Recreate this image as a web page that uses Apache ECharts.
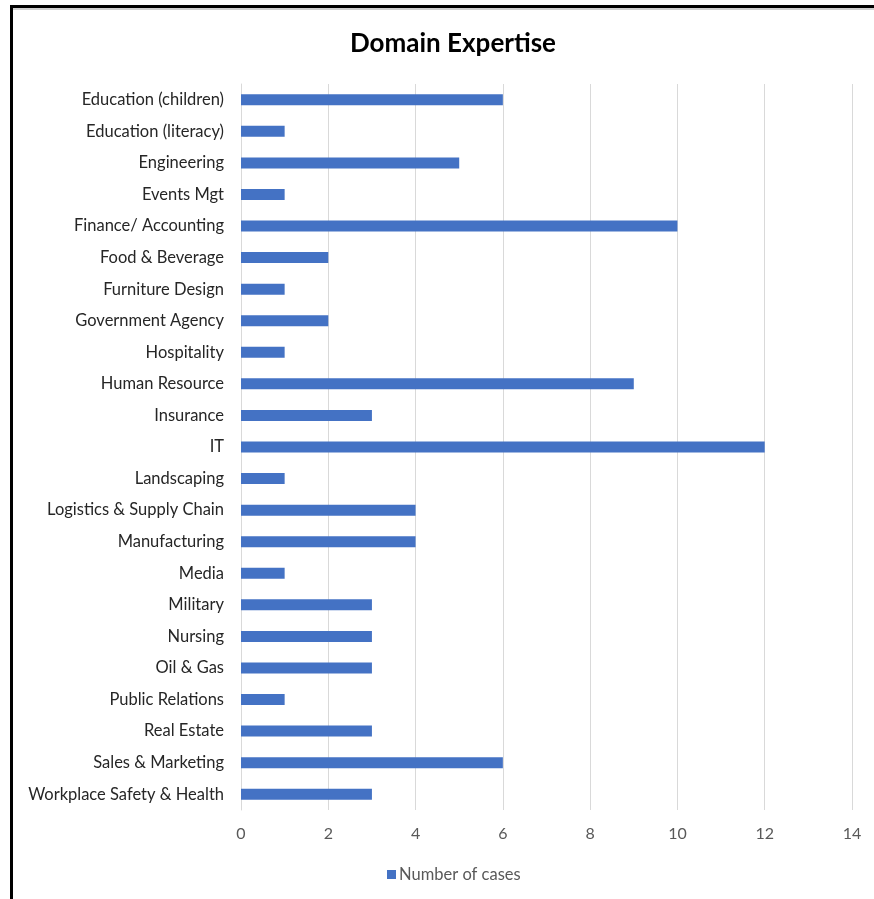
<!DOCTYPE html>
<html>
<head>
<meta charset="utf-8">
<script src="https://cdn.jsdelivr.net/npm/echarts@6/dist/echarts.min.js"></script>
<style>
  html, body { margin: 0; padding: 0; background: #fff; }
  #wrap { position: relative; width: 874px; height: 899px; }
  #chart { position: absolute; left: 0; top: 0; width: 874px; height: 899px; }
  #frame { position: absolute; left: 10px; top: 5px; right: 0; bottom: 0;
           border-left: 3px solid #000; border-top: 3px solid #000;
           box-shadow: 0 2px 0 #d0d0d0 inset; pointer-events: none; }
</style>
</head>
<body>
<div id="wrap">
  <div id="chart"></div>
  <div id="frame"></div>
</div>
<script>
const categories = [
  'Education (children)', 'Education (literacy)', 'Engineering', 'Events Mgt',
  'Finance/ Accounting', 'Food & Beverage', 'Furniture Design', 'Government Agency',
  'Hospitality', 'Human Resource', 'Insurance', 'IT', 'Landscaping',
  'Logistics & Supply Chain', 'Manufacturing', 'Media', 'Military', 'Nursing',
  'Oil & Gas', 'Public Relations', 'Real Estate', 'Sales & Marketing',
  'Workplace Safety & Health'
]
const cases = [6, 1, 5, 1, 10, 2, 1, 2, 1, 9, 3, 12, 1, 4, 4, 1, 3, 3, 3, 1, 3, 6, 3]

const chart = echarts.init(document.getElementById('chart'))
chart.setOption({
  animation: false,
  title: {
    text: 'Domain Expertise',
    left: 448, top: 26, textAlign: 'center',
    textStyle: { fontFamily: 'Lato', fontSize: 26, fontWeight: 'bold', color: '#000' }
  },
  legend: {
    data: ['Number of cases'],
    left: 382, top: 861,
    itemWidth: 9, itemHeight: 9, itemGap: 4,
    icon: 'rect',
    textStyle: { fontFamily: 'Lato', fontSize: 16.5, color: '#595959', padding: [0, 0, 0, -2] }
  },
  grid: { left: 241, right: 22, top: 84, bottom: 89, containLabel: false },
  xAxis: {
    type: 'value', min: 0, max: 14, interval: 2,
    axisLine: { show: false }, axisTick: { show: false },
    axisLabel: { fontFamily: 'Lato', fontSize: 16, color: '#595959', margin: 16 },
    splitLine: { lineStyle: { color: '#d9d9d9', width: 1 } }
  },
  yAxis: {
    type: 'category', data: categories, inverse: true,
    axisLine: { show: true, lineStyle: { color: '#d9d9d9' } },
    axisTick: { show: false },
    axisLabel: { fontFamily: 'Lato', fontSize: 16.5, color: '#262626', margin: 17, padding: [3, 0, 0, 0] }
  },
  series: [{
    name: 'Number of cases',
    type: 'bar',
    data: cases,
    barWidth: 11,
    itemStyle: { color: '#4472c4' }
  }]
})
</script>
</body>
</html>
